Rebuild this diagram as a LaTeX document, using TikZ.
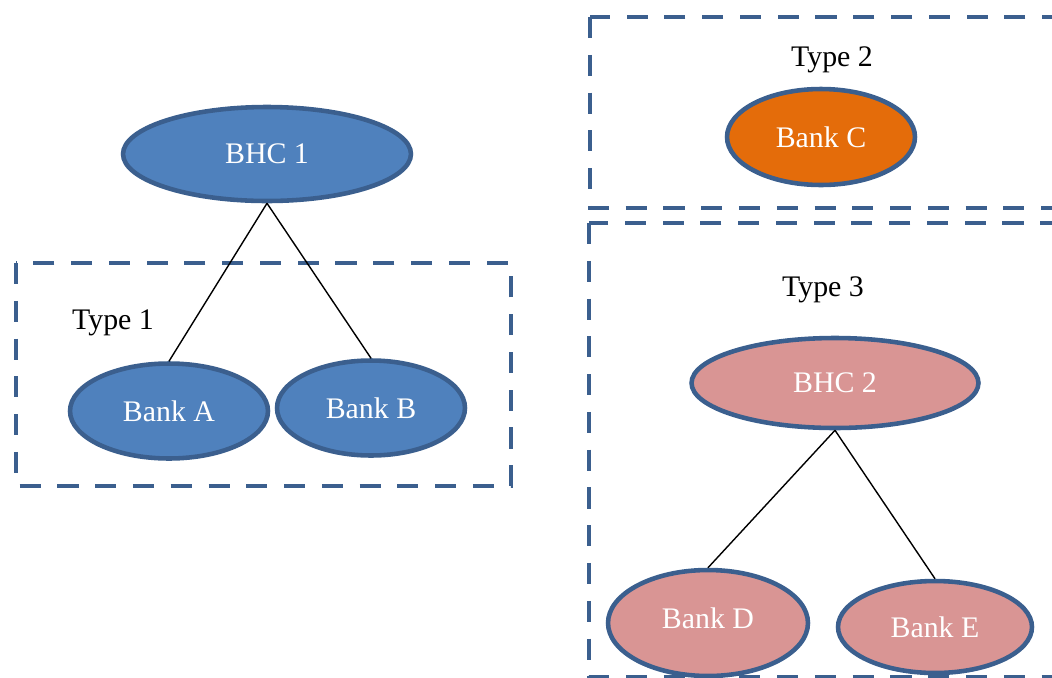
\documentclass[tikz,border=0pt]{standalone}
\usepackage{fontspec}
\setmainfont{Liberation Serif}
\usetikzlibrary{shapes.geometric}
\definecolor{edgeblue}{HTML}{3B5F8E}
\definecolor{fillblue}{HTML}{4F81BD}
\definecolor{fillorange}{HTML}{E46C0A}
\definecolor{fillpink}{HTML}{D99594}
\tikzset{
  px/.style={x=0.02cm,y=-0.02cm},
  oval/.style={ellipse,draw=edgeblue,line width=2.6pt,inner sep=0pt,text=white,font=\fontsize{17}{19}\selectfont},
  groupbox/.style={draw=edgeblue,line width=2.3pt,dash pattern=on 12pt off 9.5pt},
  typelabel/.style={font=\fontsize{17}{19}\selectfont,text=black},
  link/.style={draw=black,line width=0.8pt}
}
\begin{document}
\begin{tikzpicture}[px]
\useasboundingbox (0,0) rectangle (1052,677);
\clip (0,0) rectangle (1052,677);
% group boxes
\draw[groupbox] (16,263) rectangle (511,486);
\draw[groupbox] (590,17) rectangle (1070,208);
\draw[groupbox] (589,223) rectangle (1070,677);
% labels
\node[typelabel] (t1) at (113,323) {Type 1};
\node[typelabel] (t2) at (832,60) {Type 2};
\node[typelabel] (t3) at (823,290) {Type 3};
% ellipses
\node[oval,fill=fillblue,minimum width=5.76cm,minimum height=1.88cm] (bhc1) at (267,154) {BHC 1};
\node[oval,fill=fillblue,minimum width=3.96cm,minimum height=1.90cm] (bankA) at (169,411) {Bank A};
\node[oval,fill=fillblue,minimum width=3.76cm,minimum height=1.90cm] (bankB) at (371,408) {Bank B};
\node[oval,fill=fillorange,minimum width=3.76cm,minimum height=1.92cm] (bankC) at (821,137) {Bank C};
\node[oval,fill=fillpink,minimum width=5.74cm,minimum height=1.80cm] (bhc2) at (835,383) {BHC 2};
\node[oval,fill=fillpink,minimum width=4.00cm,minimum height=2.12cm] (bankD) at (708,623) {\raisebox{5pt}{Bank D}};
\node[oval,fill=fillpink,minimum width=3.88cm,minimum height=1.84cm] (bankE) at (935,627) {Bank E};
% connectors
\draw[link] (bhc1.south) -- (bankA.north);
\draw[link] (bhc1.south) -- (bankB.north);
\draw[link] (bhc2.south) -- (bankD.north);
\draw[link] (bhc2.south) -- (bankE.north);
\end{tikzpicture}
\end{document}
